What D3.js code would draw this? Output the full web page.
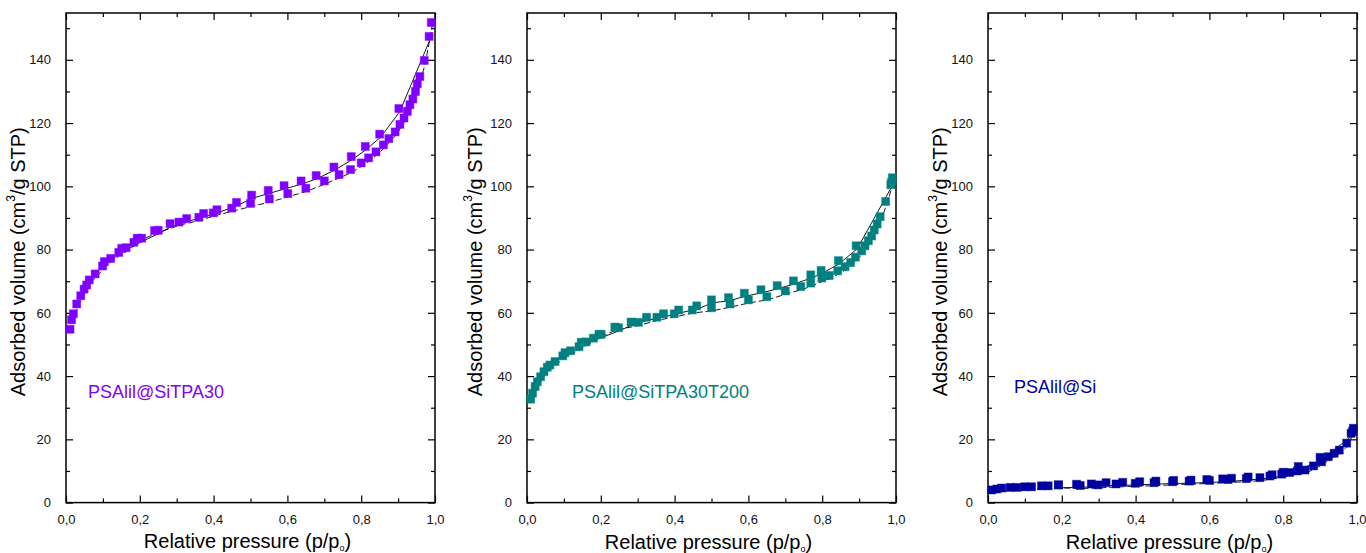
<!DOCTYPE html>
<html>
<head>
<meta charset="utf-8">
<script src="https://cdn.jsdelivr.net/npm/d3@7/dist/d3.min.js"></script>
<style>
  html, body { margin: 0; padding: 0; background: #fff; }
  svg { display: block; font-family: "Liberation Sans", Arial, sans-serif; }
</style>
</head>
<body>
<svg id="chart" width="1366" height="553"></svg>
<script>
// N2 sorption isotherms: relative pressure p/p0 vs adsorbed volume (cm3/g STP)

const sampleNames = ["PSAlil@SiTPA30", "PSAlil@SiTPA30T200", "PSAlil@Si"];
const sampleColors = ["#8000ff", "#008080", "#0000a0"];

const xTickValues = [0, 0.2, 0.4, 0.6, 0.8, 1.0];
const yTickValues = [0, 20, 40, 60, 80, 100, 120, 140];

// PSAlil@SiTPA30 — adsorption branch
const adsP1 = [0.011, 0.015, 0.020, 0.029, 0.040, 0.049, 0.056, 0.063, 0.079, 0.099, 0.121, 0.143, 0.163, 0.184, 0.193,
  0.240, 0.306, 0.360, 0.399, 0.449, 0.500, 0.551, 0.601, 0.650, 0.700, 0.740, 0.771, 0.800, 0.820, 0.840, 0.860,
  0.875, 0.892, 0.905, 0.916, 0.925, 0.932, 0.940, 0.947, 0.952, 0.959, 0.971, 0.990];
const adsV1 = [54.8, 57.8, 59.7, 62.8, 65.4, 67.5, 68.8, 70.4, 72.3, 74.8, 77.2, 79.1, 80.6, 82.3, 83.6,
  86.0, 88.7, 90.2, 91.6, 93.1, 94.6, 96.0, 97.7, 99.4, 101.7, 103.7, 105.3, 107.4, 109.0, 110.9, 113.1,
  115.1, 117.2, 119.6, 121.6, 123.7, 125.8, 127.6, 130.0, 132.4, 134.7, 139.8, 151.8];
// PSAlil@SiTPA30 — desorption branch
const desP1 = [0.984, 0.902, 0.850, 0.811, 0.773, 0.726, 0.678, 0.637, 0.591, 0.548, 0.503, 0.462, 0.409, 0.373,
  0.327, 0.282, 0.250, 0.205, 0.151, 0.104];
const desV1 = [147.4, 124.6, 116.5, 112.6, 109.4, 106.1, 103.4, 101.7, 100.2, 98.7, 97.2, 94.9, 92.6, 91.4,
  89.8, 88.2, 86.1, 83.6, 80.4, 76.2];

// PSAlil@SiTPA30T200 — adsorption branch
const adsP2 = [0.010, 0.015, 0.022, 0.028, 0.037, 0.046, 0.055, 0.062, 0.076, 0.097, 0.118, 0.141, 0.160, 0.180, 0.195,
  0.238, 0.302, 0.352, 0.399, 0.448, 0.500, 0.550, 0.600, 0.650, 0.700, 0.742, 0.769, 0.799, 0.819, 0.842, 0.862,
  0.877, 0.890, 0.907, 0.916, 0.925, 0.934, 0.941, 0.949, 0.957, 0.972, 0.986, 0.990];
const adsV2 = [32.7, 34.6, 36.7, 38.2, 39.8, 41.4, 42.8, 43.5, 44.6, 46.4, 48.0, 49.3, 50.8, 52.0, 53.2,
  55.5, 57.0, 58.6, 59.7, 60.9, 61.6, 62.8, 64.1, 65.1, 66.9, 68.3, 69.4, 71.0, 71.8, 73.3, 74.6,
  75.9, 77.6, 79.6, 81.2, 82.8, 84.3, 86.2, 88.1, 90.4, 95.2, 100.5, 102.7];
// PSAlil@SiTPA30T200 — desorption branch
const desP2 = [0.988, 0.892, 0.844, 0.797, 0.769, 0.722, 0.678, 0.634, 0.589, 0.546, 0.500, 0.460, 0.411, 0.370,
  0.324, 0.282, 0.248, 0.201, 0.147, 0.103];
const desV2 = [101.3, 81.2, 76.5, 73.4, 72.0, 70.1, 68.6, 67.3, 66.2, 64.8, 64.1, 62.2, 60.9, 59.7,
  58.6, 57.1, 55.3, 53.2, 50.7, 47.4];

// PSAlil@Si — adsorption branch
const adsP3 = [0.010, 0.024, 0.037, 0.060, 0.078, 0.100, 0.118, 0.145, 0.163, 0.191, 0.250, 0.298, 0.347, 0.399,
  0.450, 0.500, 0.545, 0.600, 0.650, 0.700, 0.737, 0.764, 0.796, 0.817, 0.838, 0.859, 0.882, 0.904, 0.922,
  0.938, 0.952, 0.972, 0.984, 0.990];
const adsV3 = [4.0, 4.3, 4.6, 4.8, 4.8, 5.0, 5.0, 5.3, 5.3, 5.6, 5.4, 5.6, 5.9, 6.1,
  6.3, 6.6, 6.8, 7.0, 7.3, 7.6, 7.9, 8.4, 9.0, 9.5, 10.0, 10.3, 11.6, 12.9, 14.5,
  15.6, 16.6, 18.8, 21.9, 23.5];
// PSAlil@Si — desorption branch
const desP3 = [0.988, 0.900, 0.841, 0.800, 0.770, 0.705, 0.660, 0.636, 0.593, 0.550, 0.503, 0.455, 0.411, 0.365,
  0.320, 0.280, 0.240, 0.191];
const desV3 = [22.5, 14.3, 11.4, 9.6, 8.8, 8.1, 7.7, 7.5, 7.3, 7.1, 7.0, 6.8, 6.6, 6.4,
  6.3, 5.9, 5.8, 5.6];

const zip = (ps, vs) => ps.map((p, i) => ({ p: p, v: vs[i] }));

const panels = [
  { name: sampleNames[0], color: sampleColors[0], ads: zip(adsP1, adsV1), des: zip(desP1, desV1),
    x0: 66, x1: 435, yTitleGap: 46, xTitleDy: 45, label: { dx: 22, y: 398 } },
  { name: sampleNames[1], color: sampleColors[1], ads: zip(adsP2, adsV2), des: zip(desP2, desV2),
    x0: 527, x1: 896, yTitleGap: 50, xTitleDy: 46, label: { dx: 45, y: 398 } },
  { name: sampleNames[2], color: sampleColors[2], ads: zip(adsP3, adsV3), des: zip(desP3, desV3),
    x0: 988, x1: 1357, yTitleGap: 46, xTitleDy: 46, label: { dx: 26, y: 393 } }
];

const plotTop = 13, plotBottom = 502.6;
const svg = d3.select("#chart");
const commaFmt = d3.formatLocale({ decimal: ",", thousands: ".", grouping: [3], currency: ["", ""] }).format(".1f");

panels.forEach(pn => {
  const x = d3.scaleLinear().domain([0, 1]).range([pn.x0, pn.x1]);
  const y = d3.scaleLinear().domain([0, 154.8]).range([plotBottom, plotTop]);
  const g = svg.append("g");

  // frame
  g.append("rect")
    .attr("x", pn.x0).attr("y", plotTop)
    .attr("width", pn.x1 - pn.x0).attr("height", plotBottom - plotTop)
    .attr("fill", "none").attr("stroke", "#000").attr("stroke-width", 1.5);

  const xMinor = d3.range(0.1, 1.0, 0.2);
  const yMinor = d3.range(10, 155, 20);
  const tickStyle = sel => sel.call(s => s.select(".domain").remove())
    .call(s => s.selectAll(".tick line").attr("stroke", "#000").attr("stroke-width", 1.2));

  // bottom axis (ticks point inward)
  g.append("g").attr("transform", `translate(0,${plotBottom})`)
    .call(d3.axisBottom(x).tickValues(xTickValues).tickSize(-7).tickPadding(12).tickFormat(commaFmt))
    .call(tickStyle)
    .call(s => s.selectAll("text").attr("font-size", 13).attr("fill", "#111")
      .attr("font-family", "'Liberation Sans', Arial, sans-serif"));
  g.append("g").attr("transform", `translate(0,${plotBottom})`)
    .call(d3.axisBottom(x).tickValues(xMinor).tickSize(-4).tickFormat(""))
    .call(tickStyle);
  // top mirror axis
  g.append("g").attr("transform", `translate(0,${plotTop})`)
    .call(d3.axisTop(x).tickValues(xTickValues).tickSize(-7).tickFormat(""))
    .call(tickStyle);
  g.append("g").attr("transform", `translate(0,${plotTop})`)
    .call(d3.axisTop(x).tickValues(xMinor).tickSize(-4).tickFormat(""))
    .call(tickStyle);

  // left axis
  g.append("g").attr("transform", `translate(${pn.x0},0)`)
    .call(d3.axisLeft(y).tickValues(yTickValues).tickSize(-7).tickPadding(15).tickFormat(d3.format("d")))
    .call(tickStyle)
    .call(s => s.selectAll("text").attr("font-size", 13).attr("fill", "#111")
      .attr("font-family", "'Liberation Sans', Arial, sans-serif"));
  g.append("g").attr("transform", `translate(${pn.x0},0)`)
    .call(d3.axisLeft(y).tickValues(yMinor).tickSize(-4).tickFormat(""))
    .call(tickStyle);
  // right mirror axis
  g.append("g").attr("transform", `translate(${pn.x1},0)`)
    .call(d3.axisRight(y).tickValues(yTickValues).tickSize(-7).tickFormat(""))
    .call(tickStyle);
  g.append("g").attr("transform", `translate(${pn.x1},0)`)
    .call(d3.axisRight(y).tickValues(yMinor).tickSize(-4).tickFormat(""))
    .call(tickStyle);

  // connecting lines (drawn slightly below the symbols): adsorption dashed, desorption solid
  const line = d3.line().x(d => x(d.p)).y(d => y(d.v));
  const lines = g.append("g").attr("transform", "translate(1,3)");
  lines.append("path").datum(pn.ads)
    .attr("d", line).attr("fill", "none")
    .attr("stroke", "#000").attr("stroke-width", 0.9).attr("stroke-dasharray", "6,3");
  lines.append("path").datum(pn.des)
    .attr("d", line).attr("fill", "none")
    .attr("stroke", "#000").attr("stroke-width", 0.9);

  // square symbols
  const size = 8;
  g.append("g").selectAll("rect")
    .data(pn.ads.concat(pn.des))
    .join("rect")
    .attr("x", d => x(d.p) - size / 2)
    .attr("y", d => y(d.v) - size / 2)
    .attr("width", size).attr("height", size)
    .attr("fill", pn.color)
    .attr("stroke", pn.color).attr("stroke-opacity", 0.45).attr("stroke-width", 1);

  // sample label
  g.append("text")
    .attr("x", pn.x0 + pn.label.dx).attr("y", pn.label.y)
    .attr("font-size", 18).attr("fill", pn.color)
    .text(pn.name);

  // y-axis title
  const yt = g.append("text")
    .attr("transform", `translate(${pn.x0 - pn.yTitleGap},${(plotTop + plotBottom) / 2 + 4}) rotate(-90)`)
    .attr("text-anchor", "middle").attr("dominant-baseline", "middle")
    .attr("font-size", 20).attr("fill", "#000");
  yt.append("tspan").text("Adsorbed volume (cm");
  yt.append("tspan").attr("font-size", 12).attr("dy", -8).text("3");
  yt.append("tspan").attr("dy", 8).text("/g STP)");

  // x-axis title
  const xt = g.append("text")
    .attr("x", (pn.x0 + pn.x1) / 2 - 3).attr("y", plotBottom + pn.xTitleDy)
    .attr("text-anchor", "middle")
    .attr("font-size", 20).attr("fill", "#000");
  xt.append("tspan").text("Relative pressure (p/p");
  xt.append("tspan").attr("font-size", 9).attr("dy", 3).text("o");
  xt.append("tspan").attr("dy", -3).text(")");
});
</script>
</body>
</html>
